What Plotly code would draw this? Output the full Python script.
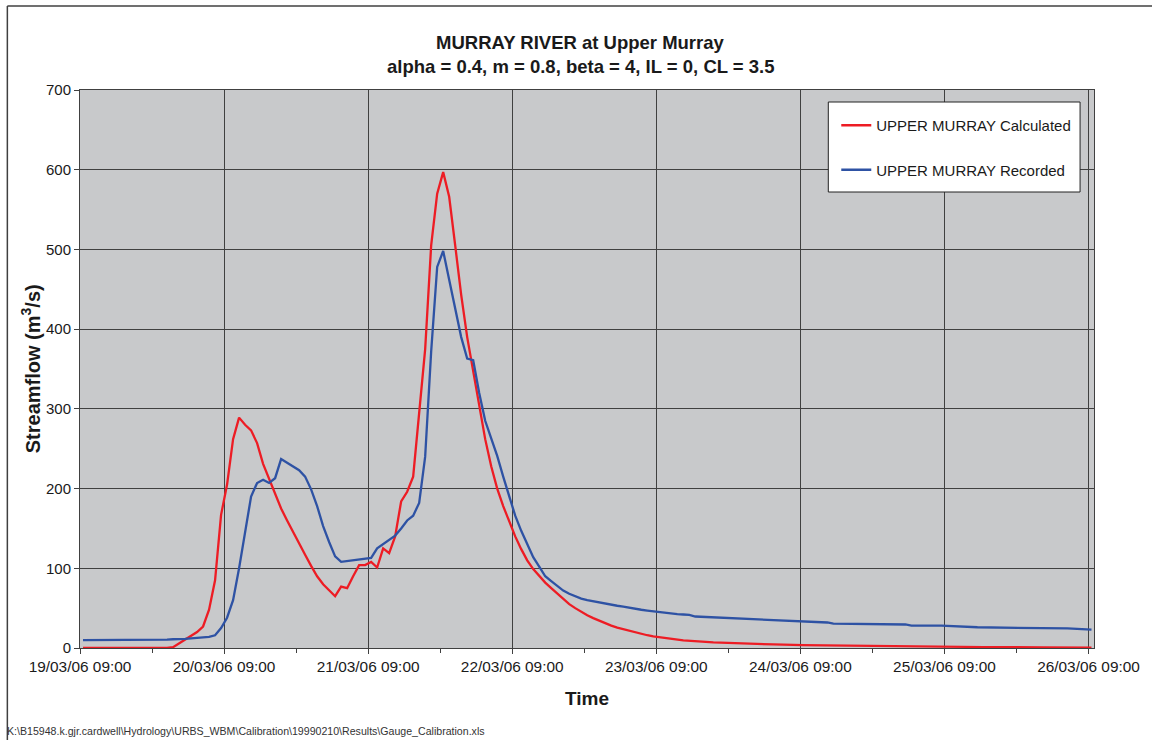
import datetime as dt
import plotly.graph_objects as go

# ---------------- data ----------------
start_time = dt.datetime(2006, 3, 19, 9, 30)

# hours after start for the event part (hourly) and the tails (sparser readings)
event_hours = list(range(0, 101))

calc_event = [0]*15 + [
    1, 6, 10, 15, 20, 27, 48, 85, 167, 205,
    262, 289, 280, 273, 257, 231, 213, 193, 175, 160,
    145, 130, 117, 103, 90, 80, 72, 65, 77, 75,
    90, 104, 104, 108, 101, 125, 119, 140, 184, 196,
    215, 295, 375, 505, 570, 597, 566, 505, 443, 390,
    349, 303, 262, 228, 200, 178, 158, 140, 124, 110,
    99, 90, 82, 75, 68, 61, 55, 50, 45, 41,
    37.5, 34, 31, 28, 25.5, 23.5, 21.5, 19.5, 17.5, 16,
    14.5, 13.5, 12.5, 11, 10, 9.5]
calc_tail_hours = [105, 110, 115, 120, 130, 140, 150, 160, 168]
calc_tail = [7, 5.5, 4.5, 3.7, 2.6, 1.8, 1.2, 0.8, 0.5]

rec_event = [10]*13 + [
    10.5, 10.5, 11, 11, 11.5, 12, 12.5, 13, 14, 16,
    25, 38, 60, 100, 148, 190, 207, 211, 207, 213,
    237, 232, 228, 223, 215, 199, 178, 153, 133, 115,
    108, 109, 110, 111, 112, 113, 125, 130, 135, 141,
    150, 160, 166, 182, 240, 372, 478, 498, 462, 427,
    390, 363, 361, 320, 285, 263, 241, 215, 189, 166,
    147, 130, 114, 102, 90, 84, 78, 72, 68, 65,
    62, 60, 58.5, 57, 55.5, 54.5, 53, 52, 50.5, 49,
    48, 47, 46, 45, 44.5, 43.5, 42.5, 42]
rec_tail_hours = [101, 102, 105, 108, 112, 116, 120, 124, 125, 133,
                  137, 138, 143, 149, 155, 157, 164, 168]
rec_tail = [41.5, 39.5, 38.5, 37.5, 36, 34.5, 33, 32, 30.5, 29.5,
            29.5, 28, 28, 26, 25.5, 24.5, 24.5, 23]

x_tick_start = "2006-03-19 09:00"
x_range_end = "2006-03-26 09:55"
title_line1 = "MURRAY RIVER at Upper Murray"
title_line2 = "alpha = 0.4, m = 0.8, beta = 4, IL = 0, CL = 3.5"
footnote = "K:\\B15948.k.gjr.cardwell\\Hydrology\\URBS_WBM\\Calibration\\19990210\\Results\\Gauge_Calibration.xls"

# ---------------- build ----------------
def to_times(hours):
    return [start_time + dt.timedelta(hours=h) for h in hours]

calc_x = to_times(event_hours + calc_tail_hours)
calc_y = calc_event + calc_tail
rec_x = to_times(event_hours + rec_tail_hours)
rec_y = rec_event + rec_tail

FONT = "Liberation Sans, Arial, sans-serif"

fig = go.Figure()
fig.add_trace(go.Scatter(x=calc_x, y=calc_y, mode="lines",
                         name="UPPER MURRAY Calculated", legendgroup="a",
                         line=dict(color="#ed1c24", width=2.3)))
fig.add_trace(go.Scatter(x=rec_x, y=rec_y, mode="lines",
                         name="UPPER MURRAY Recorded", legendgroup="b",
                         line=dict(color="#2e52a4", width=2.3)))

L, R, T, B = 80, 1099, 90, 648
W, H = 1152, 740
pw, ph = R - L, B - T

def px(xp):
    return (xp - L) / pw

def py(yp):
    return (B - yp) / ph

fig.update_layout(
    width=W, height=H,
    margin=dict(l=L, r=W - R, t=T, b=H - B, pad=0),
    paper_bgcolor="white",
    plot_bgcolor="#c8c9cb",
    font=dict(family=FONT, size=15, color="#1a1a1a"),
    showlegend=True,
    legend=dict(x=px(840), y=py(109), xanchor="left", yanchor="top",
                bgcolor="rgba(0,0,0,0)", borderwidth=0,
                traceorder="grouped", tracegroupgap=22,
                font=dict(family=FONT, size=15, color="#1a1a1a")),
)

fig.update_xaxes(
    type="date",
    range=[x_tick_start, x_range_end],
    tick0=x_tick_start, dtick=86400000,
    tickformat="%d/%m/%y %H:%M",
    ticks="outside", ticklen=5, tickcolor="#404040",
    showgrid=True, gridcolor="#404040", gridwidth=1,
    showline=True, linecolor="#404040", linewidth=1, mirror=True,
    zeroline=False,
    minor=dict(dtick=43200000, tick0=x_tick_start, ticks="outside",
               ticklen=4, tickcolor="#404040", showgrid=False),
    tickfont=dict(family=FONT, size=15.4, color="#1a1a1a"),
)
fig.update_yaxes(
    range=[0, 700], dtick=100,
    ticks="outside", ticklen=5, tickcolor="#404040",
    showgrid=True, gridcolor="#404040", gridwidth=1,
    showline=True, linecolor="#404040", linewidth=1, mirror=True,
    zeroline=False,
    tickfont=dict(family=FONT, size=15, color="#1a1a1a"),
)

# legend box
fig.add_shape(type="rect", xref="paper", yref="paper",
              x0=px(832), x1=px(1085), y0=py(192), y1=py(102),
              fillcolor="white", line=dict(color="#222222", width=1),
              layer="above")
# outer chart frame (top and left edges visible)
fig.add_shape(type="line", xref="paper", yref="paper",
              x0=px(7), x1=px(1160), y0=py(6), y1=py(6),
              line=dict(color="#404040", width=1.5))
fig.add_shape(type="line", xref="paper", yref="paper",
              x0=px(7), x1=px(7), y0=py(6), y1=py(760),
              line=dict(color="#404040", width=1.5))

ann = [
    dict(text="<b>" + title_line1 + "</b>", x=px(583), y=py(42), size=18.5),
    dict(text="<b>" + title_line2 + "</b>", x=px(583), y=py(66), size=18.5),
    dict(text="<b>Time</b>", x=px(590), y=py(698), size=19),
    dict(text="<b>Streamflow (m<sup>3</sup>/s)</b>", x=px(30), y=py(369),
         textangle=-90, size=20),
]
for a in ann:
    size = a.pop("size")
    fig.add_annotation(xref="paper", yref="paper", showarrow=False,
                       xanchor="center", yanchor="middle",
                       font=dict(family=FONT, size=size, color="#1a1a1a"),
                       **a)
fig.add_annotation(xref="paper", yref="paper", showarrow=False,
                   text=footnote, x=px(5), y=py(731),
                   xanchor="left", yanchor="middle",
                   font=dict(family=FONT, size=10.6, color="#333333"))

fig.write_html("out.html")
